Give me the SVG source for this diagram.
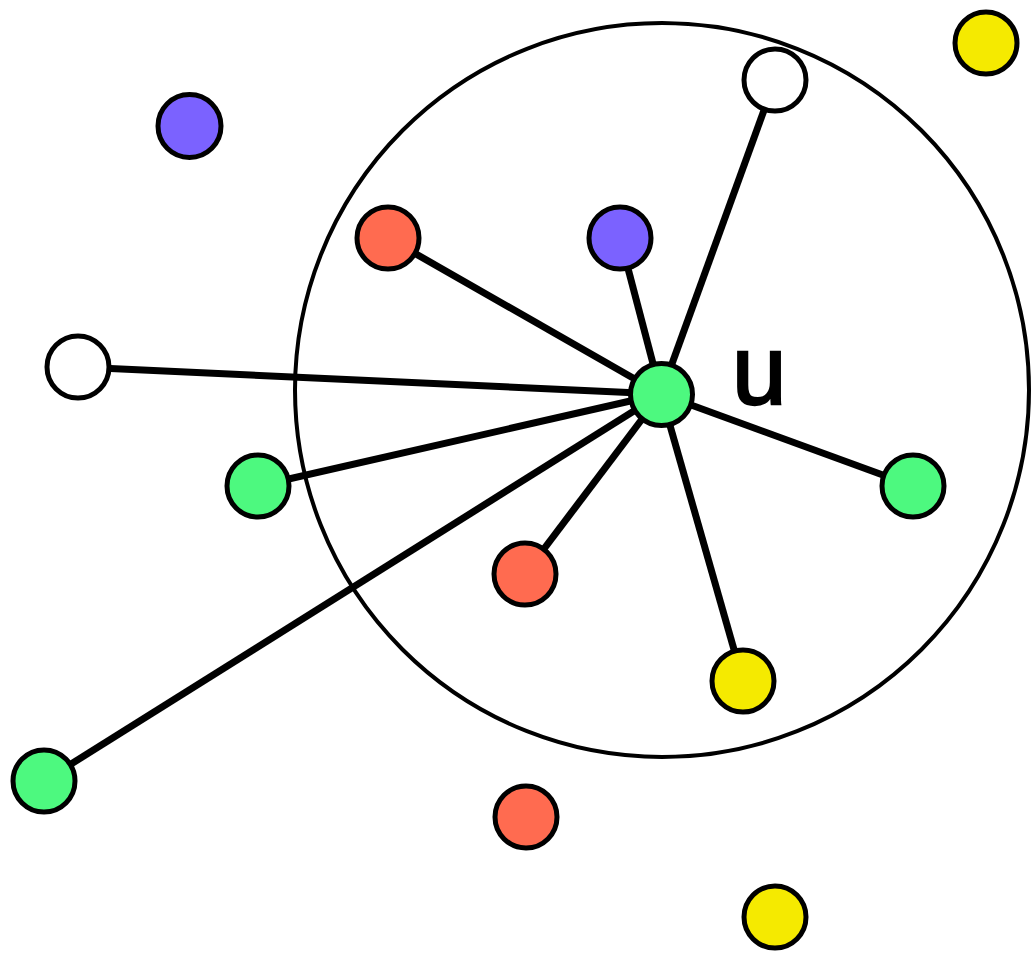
<svg xmlns="http://www.w3.org/2000/svg" width="1031" height="955" viewBox="0 0 1031 955">
  <style>
    .node { stroke: #000; stroke-width: 5; }
    .green { fill: #4DF97F; }
    .purple { fill: #7B62FF; }
    .red { fill: #FF6B50; }
    .yellow { fill: #F5EA00; }
    .white { fill: #FFFFFF; }
    .edge { stroke: #000; stroke-width: 7; fill: none; }
    .ring { stroke: #000; stroke-width: 4; fill: none; }
    .label { font-family: "Liberation Sans", Arial, sans-serif; font-size: 98px; fill: #000; stroke: #000; stroke-width: 2.5; }
  </style>
  <rect width="1031" height="955" fill="#fff"/>

  <!-- neighbourhood radius around u -->
  <circle class="ring" cx="662" cy="390" r="367"/>

  <g id="connectors">
    <line class="edge" x1="661" y1="394" x2="775" y2="80"/>
    <line class="edge" x1="661" y1="394" x2="388" y2="238"/>
    <line class="edge" x1="661" y1="394" x2="620" y2="238"/>
    <line class="edge" x1="661" y1="394" x2="78" y2="367"/>
    <line class="edge" x1="661" y1="394" x2="258" y2="486"/>
    <line class="edge" x1="661" y1="394" x2="913" y2="486"/>
    <line class="edge" x1="661" y1="394" x2="525" y2="574"/>
    <line class="edge" x1="661" y1="394" x2="743" y2="681"/>
    <line class="edge" x1="661" y1="394" x2="44" y2="781"/>
  </g>

  <g id="n-white-top"><circle class="node white" cx="775" cy="80" r="31"/></g>
  <g id="n-yellow-corner"><circle class="node yellow" cx="986" cy="43" r="31"/></g>
  <g id="n-purple-outer"><circle class="node purple" cx="189.5" cy="126" r="31.5"/></g>
  <g id="n-red-inner-top"><circle class="node red" cx="388" cy="238" r="31"/></g>
  <g id="n-purple-inner"><circle class="node purple" cx="620" cy="238" r="31"/></g>
  <g id="n-white-left"><circle class="node white" cx="78" cy="367" r="31"/></g>
  <g id="n-green-left"><circle class="node green" cx="258" cy="486" r="31"/></g>
  <g id="n-green-right"><circle class="node green" cx="913" cy="486" r="31"/></g>
  <g id="n-red-inner-low"><circle class="node red" cx="525" cy="574" r="31"/></g>
  <g id="n-yellow-inner"><circle class="node yellow" cx="743" cy="681" r="31"/></g>
  <g id="n-green-far"><circle class="node green" cx="44" cy="781" r="31"/></g>
  <g id="n-red-outer"><circle class="node red" cx="526" cy="817" r="31"/></g>
  <g id="n-yellow-bottom"><circle class="node yellow" cx="775" cy="917" r="31"/></g>

  <g id="n-u">
    <circle class="node green" cx="661.5" cy="394.5" r="31"/>
    <text class="label" x="732" y="404">u</text>
  </g>
</svg>
